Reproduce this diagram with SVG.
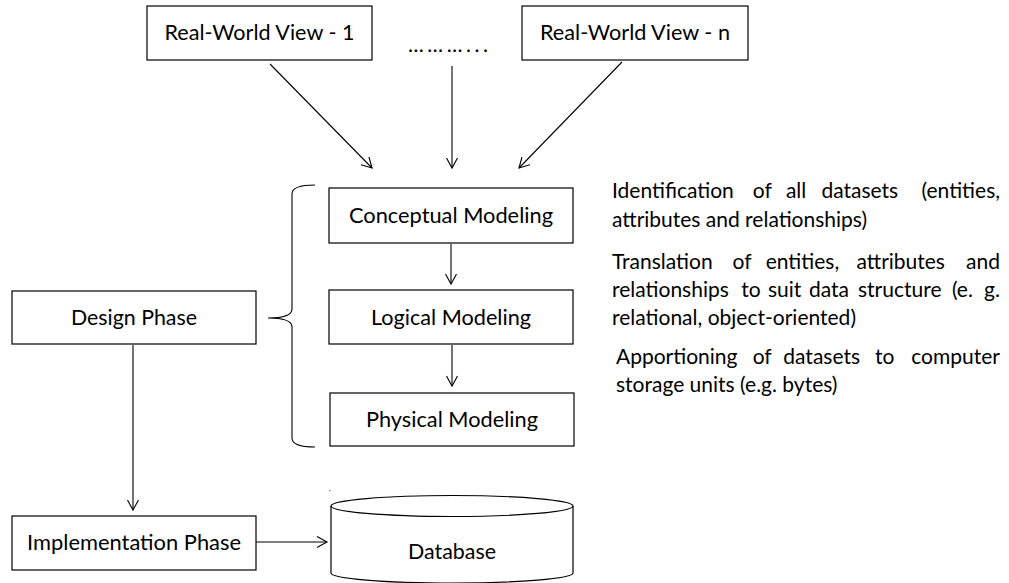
<svg xmlns="http://www.w3.org/2000/svg" width="1009" height="583" viewBox="0 0 1009 583">
<defs>
<style>
.box{fill:#fff;stroke:#000;stroke-width:1.2}
.lbl{font-family:Lato,"Liberation Sans",sans-serif;font-size:21px;fill:#000;text-anchor:middle}
.txt{font-family:Lato,"Liberation Sans",sans-serif;font-size:21px;fill:#000}
.con{fill:none;stroke:#000;stroke-width:1.1}
</style>
<marker id="ah" markerUnits="userSpaceOnUse" markerWidth="14" markerHeight="14" refX="11" refY="6" orient="auto" viewBox="0 0 14 12">
<path d="M1,0.5 L11,6 L1,11.5" fill="none" stroke="#000" stroke-width="1.1"/>
</marker>
</defs>
<rect width="1009" height="583" fill="#fff"/>
<g id="rw1"><rect class="box" x="147" y="6" width="225" height="54"/><text class="lbl" x="259.5" y="40" textLength="190" lengthAdjust="spacingAndGlyphs">Real-World View - 1</text></g>
<g id="dots"><text class="txt" x="408" y="52" textLength="80" lengthAdjust="spacing">………...</text></g>
<g id="rwn"><rect class="box" x="522" y="6" width="226" height="54"/><text class="lbl" x="635" y="40" textLength="190" lengthAdjust="spacingAndGlyphs">Real-World View - n</text></g>
<g id="conceptual"><rect class="box" x="329" y="188" width="244" height="55"/><text class="lbl" x="451" y="223" textLength="204" lengthAdjust="spacingAndGlyphs">Conceptual Modeling</text></g>
<g id="logical"><rect class="box" x="329" y="290" width="244" height="54"/><text class="lbl" x="451" y="325" textLength="160" lengthAdjust="spacingAndGlyphs">Logical Modeling</text></g>
<g id="physical"><rect class="box" x="330" y="393" width="244" height="53"/><text class="lbl" x="452" y="427" textLength="172" lengthAdjust="spacingAndGlyphs">Physical Modeling</text></g>
<g id="design"><rect class="box" x="12" y="291" width="244" height="53"/><text class="lbl" x="134" y="325" textLength="126" lengthAdjust="spacingAndGlyphs">Design Phase</text></g>
<g id="implementation"><rect class="box" x="12" y="516" width="244" height="54"/><text class="lbl" x="134" y="550" textLength="214" lengthAdjust="spacingAndGlyphs">Implementation Phase</text></g>
<g id="database">
<path class="box" d="M331,506 L331,573 A121,10 0 0 0 573,573 L573,506"/>
<ellipse class="box" cx="452" cy="506" rx="121" ry="10.5"/>
<text class="lbl" x="452" y="559" textLength="88" lengthAdjust="spacingAndGlyphs">Database</text>
</g>
<g id="brace"><path class="con" d="M315,185 Q292,185 292,194 L292,309 Q292,318 268,318 Q292,318 292,327 L292,438 Q292,447 315,447"/></g>
<rect x="329" y="490" width="1.5" height="1.2" fill="#888"/>
<g id="notes">
<text class="txt" y="198"><tspan x="612">Identification</tspan><tspan x="752.8">of</tspan><tspan x="785.9">all</tspan><tspan x="821.4">datasets</tspan></text>
<text class="txt" x="1000" y="198" text-anchor="end">(entities,</text>
<text class="txt" x="612" y="227">attributes and relationships)</text>
<text class="txt" y="269"><tspan x="612">Translation</tspan><tspan x="732.6">of</tspan><tspan x="765.7">entities,</tspan><tspan x="856.5">attributes</tspan></text>
<text class="txt" x="1000" y="269" text-anchor="end">and</text>
<text class="txt" y="297"><tspan x="612">relationships</tspan><tspan x="741.3">to</tspan><tspan x="767.9">suit</tspan><tspan x="809">data</tspan><tspan x="858">structure</tspan><tspan x="951.9">(e.</tspan></text>
<text class="txt" x="1000" y="297" text-anchor="end">g.</text>
<text class="txt" x="612" y="325">relational, object-oriented)</text>
<text class="txt" y="364"><tspan x="616">Apportioning</tspan><tspan x="752.7">of</tspan><tspan x="783.3">datasets</tspan><tspan x="875">to</tspan></text>
<text class="txt" x="1000" y="364" text-anchor="end">computer</text>
<text class="txt" x="616" y="392">storage units (e.g. bytes)</text>
</g>
<g id="connectors">
<line class="con" x1="270" y1="64" x2="372" y2="168" marker-end="url(#ah)"/>
<line class="con" x1="452" y1="66" x2="452" y2="168" marker-end="url(#ah)"/>
<line class="con" x1="622" y1="62" x2="519" y2="168" marker-end="url(#ah)"/>
<line class="con" x1="451" y1="244" x2="451" y2="284" marker-end="url(#ah)"/>
<line class="con" x1="452" y1="345" x2="452" y2="386" marker-end="url(#ah)"/>
<line class="con" x1="133" y1="345" x2="133" y2="510" marker-end="url(#ah)"/>
<line class="con" x1="256" y1="542" x2="327" y2="542" marker-end="url(#ah)"/>
</g>
</svg>
